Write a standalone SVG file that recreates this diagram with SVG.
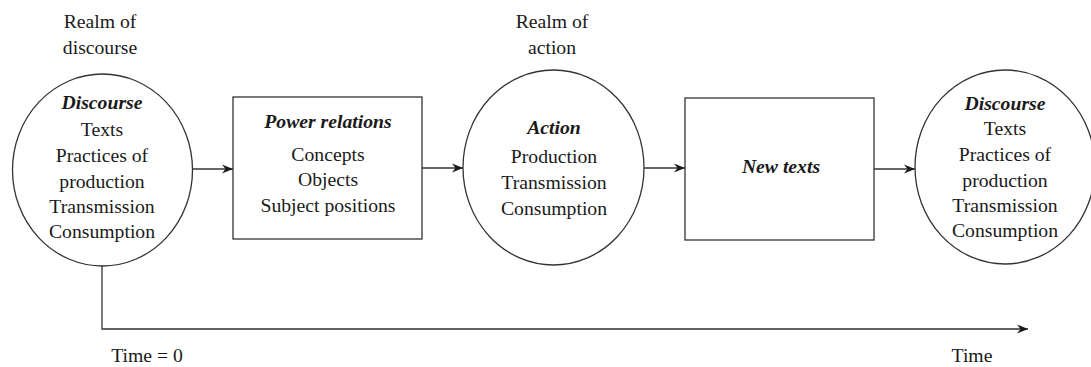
<svg xmlns="http://www.w3.org/2000/svg" width="1091" height="367" viewBox="0 0 1091 367">
<style>
text{font-size:19.7px;fill:#1a1a1a;text-anchor:middle}
.h{font-weight:bold;font-style:italic}
.shape{fill:#fff;stroke:#333;stroke-width:1.3}
.conn{fill:none;stroke:#333;stroke-width:1.3}
</style>
<defs>
<marker id="arr" markerWidth="12" markerHeight="10" refX="11" refY="5" orient="auto" markerUnits="userSpaceOnUse">
<path d="M0,0.5 L11,5 L0,9.5 L3.5,5 Z" fill="#1a1a1a"/>
</marker>
</defs>
<rect width="1091" height="367" fill="#fff"/>
<g font-family="'Liberation Serif', 'Times New Roman', 'DejaVu Serif', serif">
<g id="labels">
<text x="100" y="28">Realm of</text>
<text x="100" y="54">discourse</text>
<text x="552" y="28">Realm of</text>
<text x="552" y="54">action</text>
<text x="147" y="362">Time = 0</text>
<text x="972" y="362">Time</text>
</g>
<g id="connectors">
<line class="conn" x1="192.5" y1="169" x2="233" y2="169" marker-end="url(#arr)"/>
<line class="conn" x1="422" y1="168" x2="463" y2="168" marker-end="url(#arr)"/>
<line class="conn" x1="644" y1="168" x2="685" y2="168" marker-end="url(#arr)"/>
<line class="conn" x1="874" y1="169" x2="915" y2="169" marker-end="url(#arr)"/>
<polyline class="conn" points="102,266 102,329 1028,329" marker-end="url(#arr)"/>
</g>
<g id="discourse1">
<ellipse class="shape" cx="102.5" cy="170" rx="90" ry="96"/>
<text class="h" x="102" y="109">Discourse</text>
<text x="102" y="136">Texts</text>
<text x="102" y="162">Practices of</text>
<text x="102" y="188">production</text>
<text x="102" y="213">Transmission</text>
<text x="102" y="238">Consumption</text>
</g>
<g id="power">
<rect class="shape" x="233" y="97" width="189" height="142"/>
<text class="h" x="328" y="128">Power relations</text>
<text x="328" y="161">Concepts</text>
<text x="328" y="186">Objects</text>
<text x="328" y="212">Subject positions</text>
</g>
<g id="action">
<ellipse class="shape" cx="553.5" cy="167.5" rx="90.5" ry="97.5"/>
<text class="h" x="554" y="134">Action</text>
<text x="554" y="163">Production</text>
<text x="554" y="189">Transmission</text>
<text x="554" y="215">Consumption</text>
</g>
<g id="newtexts">
<rect class="shape" x="685" y="98" width="189" height="142"/>
<text class="h" x="781" y="173">New texts</text>
</g>
<g id="discourse2">
<ellipse class="shape" cx="1005" cy="167" rx="90" ry="97"/>
<text class="h" x="1005" y="110">Discourse</text>
<text x="1005" y="135">Texts</text>
<text x="1005" y="161">Practices of</text>
<text x="1005" y="187">production</text>
<text x="1005" y="212">Transmission</text>
<text x="1005" y="237">Consumption</text>
</g>
</g>
</svg>
